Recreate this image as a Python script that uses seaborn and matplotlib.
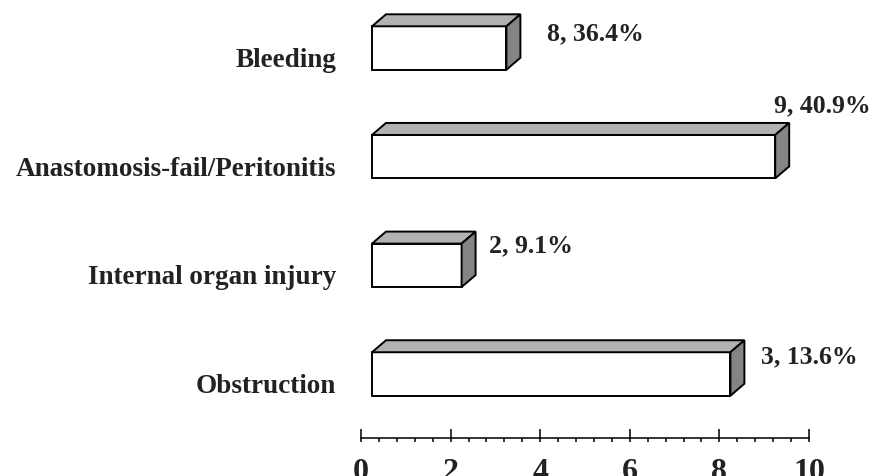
import matplotlib
matplotlib.use("Agg")
import matplotlib.pyplot as plt
from matplotlib.patches import Polygon
from matplotlib.ticker import MultipleLocator
import seaborn as sns
import pandas as pd

# data
categories = ["Bleeding", "Anastomosis-fail/Peritonitis", "Internal organ injury", "Obstruction"]
bar_values = [3, 9, 2, 8]
value_labels = ["8, 36.4%", "9, 40.9%", "2, 9.1%", "3, 13.6%"]
tick_values = [0, 2, 4, 6, 8, 10]

# label offsets (pixels) from back top-right corner of each box
label_offsets = [(27, -25), (-15, 12), (13, -20), (17, -22)]

sns.set_style("white")
plt.rcParams["font.family"] = ["Liberation Serif", "DejaVu Serif"]
plt.rcParams["font.weight"] = "bold"

W, H = 877, 477
fig = plt.figure(figsize=(W / 100, H / 100), dpi=100)
fig.patch.set_facecolor("white")

# bar axes (front faces start at 372 px)
ax = fig.add_axes([372 / W, (H - 429.3) / H, 448 / W, 434.6 / H])
df = pd.DataFrame({"category": categories, "count": bar_values})
sns.barplot(data=df, x="count", y="category", orient="h", color="white",
            saturation=1, edgecolor="black", linewidth=1.4, width=0.4, ax=ax)
ax.set_xlim(0, 10)
ax.set_ylim(3.5, -0.5)
ax.axis("off")

# 3d depth: 14 px right, 12 px up
inv = ax.transData.inverted()
(ax0, ay0), (ax1, ay1) = inv.transform([(0, 0), (14, 12)])
ddx, ddy = ax1 - ax0, ay1 - ay0

top_col = "#b2b2b2"
side_col = "#848484"
for i, p in enumerate(ax.patches):
    x0, w = p.get_x(), p.get_width()
    ya, yb = p.get_y(), p.get_y() + p.get_height()
    ytop, ybot = min(ya, yb), max(ya, yb)
    top = Polygon([(x0, ytop), (x0 + w, ytop), (x0 + w + ddx, ytop + ddy), (x0 + ddx, ytop + ddy)],
                  closed=True, facecolor=top_col, edgecolor="black", linewidth=1.4,
                  clip_on=False, joinstyle="miter")
    side = Polygon([(x0 + w, ytop), (x0 + w, ybot), (x0 + w + ddx, ybot + ddy), (x0 + w + ddx, ytop + ddy)],
                   closed=True, facecolor=side_col, edgecolor="black", linewidth=1.4,
                   clip_on=False, joinstyle="miter")
    ax.add_patch(top)
    ax.add_patch(side)
    p.set_clip_on(False)
    p.set_joinstyle("miter")

    ox, oy = label_offsets[i]
    ax.annotate(value_labels[i], xy=(x0 + w + ddx, ytop + ddy), xytext=(ox, oy),
                textcoords="offset pixels", ha="left", va="baseline",
                fontsize=18.5, fontweight="bold", color="#222222", annotation_clip=False)

    ax.annotate(categories[i], xy=(0, i), xytext=(-36, -18), textcoords="offset pixels",
                ha="right", va="baseline", fontsize=19.5, fontweight="bold",
                color="#222222", annotation_clip=False)

# ruler axis underneath (0 at 361 px, 10 at 809 px)
ax2 = fig.add_axes([361 / W, (H - 439) / H, 448 / W, 0.0001])
ax2.set_xlim(0, 10)
ax2.set_yticks([])
for s in ["left", "right", "top"]:
    ax2.spines[s].set_visible(False)
ax2.spines["bottom"].set_linewidth(1.1)
ax2.spines["bottom"].set_color("black")
ax2.set_xticks(tick_values)
ax2.set_xticklabels([str(t) for t in tick_values], fontsize=23, fontweight="bold", color="#222222")
ax2.xaxis.set_minor_locator(MultipleLocator(0.4))
ax2.xaxis.remove_overlapping_locs = False
ax2.tick_params(axis="x", which="major", direction="in", length=6.5, width=1.1,
                color="black", pad=14, bottom=True)
ax2.tick_params(axis="x", which="minor", direction="out", length=3, width=1.1,
                color="black", bottom=True)
ax2.set_facecolor("none")

fig.savefig("out.png", dpi=100, facecolor="white")
